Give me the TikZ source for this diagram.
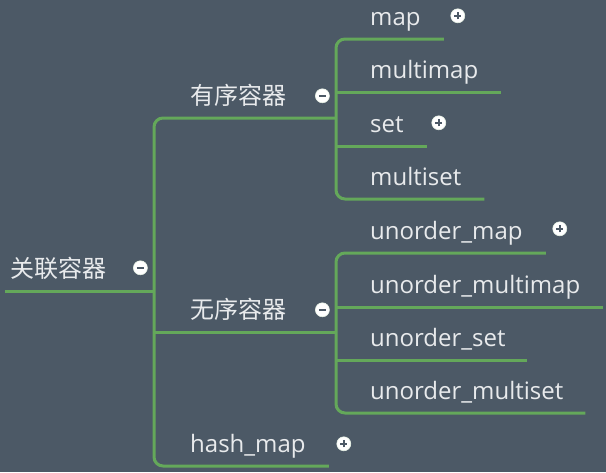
\documentclass[tikz,border=0pt]{standalone}
\usepackage{fontspec}
\setmainfont{Open Sans}
\newfontfamily\cjk{Noto Sans CJK SC}
\usepackage{tikz}
\usetikzlibrary{positioning,calc}

\definecolor{slate}{RGB}{76,89,102}
\definecolor{branchgreen}{RGB}{100,168,90}
\definecolor{labeltext}{RGB}{232,234,236}

\tikzset{
    topic/.style={anchor=south west, inner sep=0pt, text depth=13pt, text=labeltext, font=\fontsize{24}{28}\selectfont},
    cntopic/.style={topic, font=\cjk\fontsize{24}{28}\selectfont},
    branch/.style={draw=branchgreen, line width=3pt, rounded corners=9pt},
    toggle/.style={circle, fill=white, draw=white!85!branchgreen, line width=0.6pt, minimum size=14pt, inner sep=0pt},
    fold/.style={toggle, path picture={
        \draw[slate, line width=1.6pt] ([xshift=-3.5pt]path picture bounding box.center) -- ([xshift=3.5pt]path picture bounding box.center);}},
    unfold/.style={toggle, path picture={
        \draw[slate, line width=1.6pt] ([xshift=-3.5pt]path picture bounding box.center) -- ([xshift=3.5pt]path picture bounding box.center);
        \draw[slate, line width=1.6pt] ([yshift=-3.5pt]path picture bounding box.center) -- ([yshift=3.5pt]path picture bounding box.center);}}
}

\begin{document}
\begin{tikzpicture}[x=1pt, y=-1pt]

\fill[slate] (0,0) rectangle (606,472);
\useasboundingbox (0,0) rectangle (606,472);

% buses of the three levels
\coordinate (trunk) at (154,0);
\coordinate (ordBus) at (336,0);
\coordinate (unordBus) at (336,0);

% topics
\node[cntopic] (root) at (10,291) {关联容器};
\node[cntopic] (ord) at (190,118) {有序容器};
\node[cntopic] (unord) at (190,332) {无序容器};
\node[topic] (hash) at (190,466) {hash\_map};

\node[topic] (map) at (370,39) {map};
\node[topic] (mmap) at (370,92) {multimap};
\node[topic] (set) at (370,146) {set};
\node[topic] (mset) at (370,199) {multiset};

\node[topic] (umap) at (370,253) {unorder\_map};
\node[topic] (ummap) at (370,307) {unorder\_multimap};
\node[topic] (uset) at (370,360) {unorder\_set};
\node[topic] (umset) at (370,413) {unorder\_multiset};

% connectors
\draw[branch] ([xshift=-5pt]root.south west) -- (trunk |- root.south);
\draw[branch] (ordBus |- ord.south) -| (trunk |- hash.south) -- ([xshift=23pt]hash.south east);
\draw[branch] (trunk |- unord.south) -- (unordBus |- unord.south);

\draw[branch] ([xshift=23pt]map.south east) -| (ordBus |- mset.south) -- ([xshift=23pt]mset.south east);
\draw[branch] (ordBus |- mmap.south) -- ([xshift=23pt]mmap.south east);
\draw[branch] (ordBus |- set.south) -- ([xshift=23pt]set.south east);

\draw[branch] ([xshift=23pt]umap.south east) -| (unordBus |- umset.south) -- ([xshift=22pt]umset.south east);
\draw[branch] (unordBus |- ummap.south) -- ([xshift=23pt]ummap.south east);
\draw[branch] (unordBus |- uset.south) -- ([xshift=21pt]uset.south east);

% fold / unfold buttons
\node[fold] (rootBtn) at ([xshift=34pt,yshift=10pt]root.base east) {};
\node[fold] (ordBtn) at ([xshift=36pt,yshift=9pt]ord.base east) {};
\node[fold] (unordBtn) at ([xshift=36pt,yshift=9pt]unord.base east) {};
\node[unfold] (hashBtn) at ([xshift=38pt,yshift=9pt]hash.base east) {};
\node[unfold] (mapBtn) at ([xshift=37pt,yshift=10pt]map.base east) {};
\node[unfold] (setBtn) at ([xshift=35pt,yshift=10pt]set.base east) {};
\node[unfold] (umapBtn) at ([xshift=37pt,yshift=11pt]umap.base east) {};

\end{tikzpicture}
\end{document}
